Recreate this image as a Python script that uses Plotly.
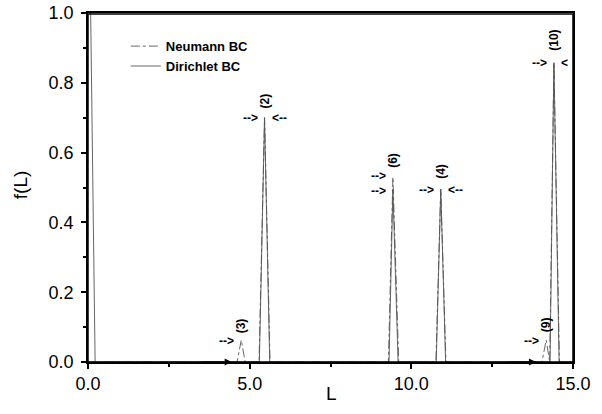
import plotly.graph_objects as go

# Data
neumann_L = [0.0, 4.61, 4.74, 4.86, 5.29, 5.46, 5.63, 9.29, 9.43, 9.61,
             10.76, 10.91, 11.07, 14.04, 14.17, 14.28, 14.41, 14.58, 15.0]
neumann_f = [0.0, 0.0, 0.063, 0.0, 0.0, 0.70, 0.0, 0.0, 0.53, 0.0,
             0.0, 0.495, 0.0, 0.0, 0.063, 0.0, 0.858, 0.0, 0.0]

dirichlet_L = [0.0, 0.22, 5.30, 5.46, 5.62, 9.31, 9.43, 9.59,
               10.77, 10.91, 11.06, 14.29, 14.41, 14.57, 15.0]
dirichlet_f = [1.6, 0.0, 0.0, 0.70, 0.0, 0.0, 0.495, 0.0,
               0.0, 0.495, 0.0, 0.0, 0.858, 0.0, 0.0]

# Mode labels
label_text = ["(3)", "(2)", "(6)", "(4)", "(9)", "(10)"]
label_L = [4.74, 5.46, 9.43, 10.91, 14.17, 14.41]
label_f = [0.103, 0.748, 0.579, 0.547, 0.106, 0.923]

# Arrow markers next to peaks
arrow_text = ["-->", "-->", "<--", "-->", "-->", "-->", "<--", "-->", "<", "-->"]
arrow_L = [4.74, 5.46, 5.46, 9.43, 9.43, 10.91, 10.91, 14.41, 14.41, 14.17]
arrow_f = [0.063, 0.70, 0.70, 0.533, 0.492, 0.495, 0.495, 0.858, 0.858, 0.063]
arrow_side = ["left", "left", "right", "left", "left", "left", "right", "left", "right", "left"]

# Baseline arrows
base_arrow_L = [4.45, 13.86]

line_col = "#555555"
fig = go.Figure()
fig.add_trace(go.Scatter(x=neumann_L, y=neumann_f, mode="lines", name="<b>Neumann BC</b>",
                         line=dict(color=line_col, width=0.9, dash="dashdot")))
fig.add_trace(go.Scatter(x=dirichlet_L, y=dirichlet_f, mode="lines", name="<b>Dirichlet BC</b>",
                         line=dict(color=line_col, width=0.9)))

lfont = dict(family="Liberation Sans", size=12, color="black")
afont = dict(family="Liberation Sans", size=12, color="black")
ann = []
for t, x, y in zip(label_text, label_L, label_f):
    ann.append(dict(x=x, y=y, text="<b>%s</b>" % t, showarrow=False, textangle=-90,
                    xanchor="center", yanchor="middle", font=lfont))
for t, x, y, s in zip(arrow_text, arrow_L, arrow_f, arrow_side):
    if s == "left":
        ann.append(dict(x=x, y=y, text="<b>%s</b>" % t, showarrow=False,
                        xanchor="right", yanchor="middle", xshift=-5, font=afont,
                        height=11))
    else:
        ann.append(dict(x=x, y=y, text="<b>%s</b>" % t, showarrow=False,
                        xanchor="left", yanchor="middle", xshift=5, font=afont,
                        height=11))
for x in base_arrow_L:
    ann.append(dict(x=x, y=0, ax=-30, ay=0, text="", showarrow=True,
                    arrowhead=2, arrowsize=1.2, arrowwidth=1.2, arrowcolor="black"))

# Axis titles
ann.append(dict(xref="paper", yref="paper", x=0.503, y=-0.089, text="L", showarrow=False,
                xanchor="center", yanchor="middle",
                font=dict(family="Liberation Sans", size=19, color="black")))
ann.append(dict(xref="paper", yref="paper", x=-0.14, y=0.507, text="f(L)", showarrow=False,
                xanchor="center", yanchor="middle", textangle=-90,
                font=dict(family="Liberation Sans", size=19, color="black")))

fig.update_layout(
    width=602, height=414,
    margin=dict(l=88, r=29, t=13, b=52),
    paper_bgcolor="white", plot_bgcolor="white",
    font=dict(family="Liberation Sans", color="black"),
    showlegend=True,
    legend=dict(x=0.078, y=0.948, xanchor="left", yanchor="top",
                bgcolor="rgba(0,0,0,0)", tracegroupgap=0,
                font=dict(family="Liberation Sans", size=13, color="black"),
                itemwidth=30),
    annotations=ann,
    shapes=[dict(type="rect", xref="paper", yref="paper", x0=0, x1=1, y0=0, y1=0.997,
                 line=dict(color="black", width=1.5), layer="above")],
    xaxis=dict(range=[0, 15], tickvals=[0, 5, 10, 15],
               ticktext=["0.0", "5.0", "10.0", "15.0"],
               ticks="outside", ticklen=5, tickwidth=1.5, tickcolor="black",
               minor=dict(tickvals=[2.5, 7.5, 12.5], ticks="outside", ticklen=3,
                          tickwidth=1.5, tickcolor="black"),
               showline=True, linecolor="black", linewidth=1.5, mirror=True,
               showgrid=False, zeroline=False, automargin=False,
               tickfont=dict(size=18)),
    yaxis=dict(range=[0, 1.0], tickvals=[0, 0.2, 0.4, 0.6, 0.8, 1.0],
               ticktext=["0.0", "0.2", "0.4", "0.6", "0.8", "1.0"],
               ticks="outside", ticklen=5, tickwidth=1.5, tickcolor="black",
               minor=dict(tickvals=[0.1, 0.3, 0.5, 0.7, 0.9], ticks="outside", ticklen=3,
                          tickwidth=1.5, tickcolor="black"),
               showline=True, linecolor="black", linewidth=1.5, mirror=True,
               showgrid=False, zeroline=False, automargin=False,
               ticklabelstandoff=4,
               tickfont=dict(size=18)),
)

fig.write_html("out.html", config={"displayModeBar": False},
               post_script="document.body.style.margin='0px';")
